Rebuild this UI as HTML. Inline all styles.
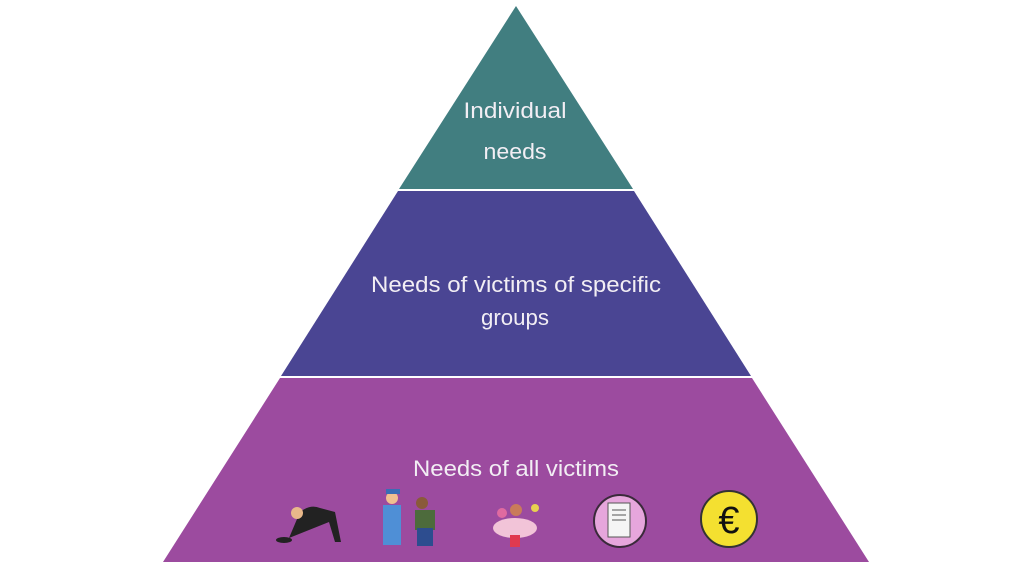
<!DOCTYPE html>
<html><head><meta charset="utf-8"><style>
html,body{margin:0;padding:0;background:#fff;width:1024px;height:576px;overflow:hidden}
text{font-family:"Liberation Sans",sans-serif;fill:#f2eef4;font-size:22px}
</style></head><body>
<svg width="1024" height="576" viewBox="0 0 1024 576" xmlns="http://www.w3.org/2000/svg">
<polygon points="516,6 633,189 399,189" fill="#417E80"/>
<polygon points="398,191 634,191 751,376 281,376" fill="#4A4593"/>
<polygon points="280,378 752,378 869,562 163,562" fill="#9C4B9F"/>
<text x="515" y="118" text-anchor="middle" textLength="103" lengthAdjust="spacingAndGlyphs">Individual</text>
<text x="515" y="159" text-anchor="middle" textLength="63" lengthAdjust="spacingAndGlyphs">needs</text>
<text x="516" y="292" text-anchor="middle" textLength="290" lengthAdjust="spacingAndGlyphs">Needs of victims of specific</text>
<text x="515" y="325" text-anchor="middle" textLength="68" lengthAdjust="spacingAndGlyphs">groups</text>
<text x="516" y="476" text-anchor="middle" textLength="206" lengthAdjust="spacingAndGlyphs">Needs of all victims</text>
<g>
<path d="M300 512 q10 -8 20 -4 l15 4 l6 30 l-6 0 l-6 -20 l-20 8 l-20 8 z" fill="#222"/>
<circle cx="297" cy="513" r="6" fill="#e9b88a"/>
<ellipse cx="284" cy="540" rx="8" ry="3" fill="#222"/>
</g>
<g>
<rect x="383" y="505" width="18" height="40" fill="#4f8fd6"/>
<circle cx="392" cy="498" r="6" fill="#f0c090"/>
<rect x="386" y="489" width="14" height="5" fill="#3a6db5"/>
<rect x="415" y="510" width="20" height="20" fill="#4d6b3c"/>
<rect x="417" y="528" width="16" height="18" fill="#2d4d8f"/>
<circle cx="422" cy="503" r="6" fill="#8a5a3a"/>
</g>
<g>
<ellipse cx="515" cy="528" rx="22" ry="10" fill="#f2c4d8"/>
<circle cx="502" cy="513" r="5" fill="#e06aa0"/>
<circle cx="516" cy="510" r="6" fill="#c97b5a"/>
<circle cx="535" cy="508" r="4" fill="#e8d050"/>
<rect x="510" y="535" width="10" height="12" fill="#e03a50"/>
</g>
<circle cx="620" cy="521" r="26" fill="#e6a6dc" stroke="#3a2a3a" stroke-width="2"/>
<rect x="608" y="503" width="22" height="34" fill="#f5f5f5" stroke="#555" stroke-width="1"/>
<line x1="612" y1="510" x2="626" y2="510" stroke="#555"/>
<line x1="612" y1="515" x2="626" y2="515" stroke="#555"/>
<line x1="612" y1="520" x2="626" y2="520" stroke="#555"/>
<circle cx="729" cy="519" r="28" fill="#f4e030" stroke="#333" stroke-width="2"/>
<text x="729" y="533" text-anchor="middle" style="fill:#111;font-size:38px">€</text>
</svg>
</body></html>
